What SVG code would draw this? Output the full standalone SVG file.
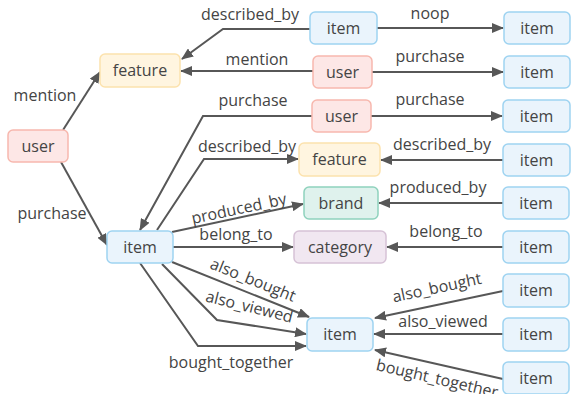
<svg xmlns="http://www.w3.org/2000/svg" width="571" height="394" viewBox="0 0 571 394">
<style>
text{font-family:"Open Sans","DejaVu Sans",sans-serif;font-size:16px;fill:#444}
.n text{text-anchor:middle}
.lbl{text-anchor:middle}
.e{fill:none;stroke:#575757;stroke-width:2;marker-end:url(#ah)}
.user rect{fill:#fde7e6;stroke:#f7b8ae;stroke-width:1.5}
.feat rect{fill:#fff5e0;stroke:#fce2ad;stroke-width:1.5}
.item rect{fill:#eaf4fc;stroke:#9ed3f1;stroke-width:1.5}
.brand rect{fill:#dff2ed;stroke:#8fd2bd;stroke-width:1.5}
.cat rect{fill:#f1e7f1;stroke:#d6c2d6;stroke-width:1.5}
</style>
<defs>
<marker id="ah" markerUnits="userSpaceOnUse" viewBox="0 0 12 10" markerWidth="12" markerHeight="10" refX="11" refY="5" orient="auto">
<path d="M0,0 L12,5 L0,10 z" fill="#575757"/>
</marker>
</defs>
<g id="connectors">
<path class="e" d="M63,130 L100,72"/>
<path class="e" d="M61,162 L107,245"/>
<path class="e" d="M310,29 L223,29 L182,59"/>
<path class="e" d="M377,28 L503,28"/>
<path class="e" d="M313,71 L181,71"/>
<path class="e" d="M372,72 L503,72"/>
<path class="e" d="M312,116 L203,116 L140,230"/>
<path class="e" d="M371,116 L502,116"/>
<path class="e" d="M157,230 L204,159 L298,159"/>
<path class="e" d="M503,160 L381,160"/>
<path class="e" d="M172,232 L303,204"/>
<path class="e" d="M503,203 L379,203"/>
<path class="e" d="M173,247 L293,247"/>
<path class="e" d="M503,247 L387,247"/>
<path class="e" d="M172,262 L309,317"/>
<path class="e" d="M162,264 L217,320 L306,334"/>
<path class="e" d="M140,263 L198,346 L306,346"/>
<path class="e" d="M503,291 L375,318"/>
<path class="e" d="M503,334 L374,334"/>
<path class="e" d="M503,379 L375,350"/>
</g>
<g id="edge-labels">
<text class="lbl" x="45" y="101">mention</text>
<text class="lbl" x="52" y="219">purchase</text>
<text class="lbl" x="250" y="20">described_by</text>
<text class="lbl" x="430" y="19">noop</text>
<text class="lbl" x="257" y="65">mention</text>
<text class="lbl" x="430" y="62">purchase</text>
<text class="lbl" x="253" y="106">purchase</text>
<text class="lbl" x="430" y="105">purchase</text>
<text class="lbl" x="247" y="152">described_by</text>
<text class="lbl" x="442" y="150">described_by</text>
<text class="lbl" transform="translate(240,214) rotate(-12)">produced_by</text>
<text class="lbl" x="438" y="193">produced_by</text>
<text class="lbl" x="236" y="240">belong_to</text>
<text class="lbl" x="446" y="237">belong_to</text>
<text class="lbl" transform="translate(251,285) rotate(22)">also_bought</text>
<text class="lbl" transform="translate(248,312) rotate(14)">also_viewed</text>
<text class="lbl" x="231" y="368">bought_together</text>
<text class="lbl" transform="translate(438,293) rotate(-12)">also_bought</text>
<text class="lbl" x="443" y="327">also_viewed</text>
<text class="lbl" transform="translate(436,384) rotate(13)">bought_together</text>
</g>
<g id="n-user1" class="n user"><rect x="8" y="130" width="60" height="32" rx="5"/><text x="38" y="151.5">user</text></g>
<g id="n-feature1" class="n feat"><rect x="100" y="54" width="80" height="33" rx="5"/><text x="140" y="76">feature</text></g>
<g id="n-item-a" class="n item"><rect x="310" y="12" width="67" height="32" rx="5"/><text x="343.5" y="33.5">item</text></g>
<g id="n-item-b" class="n item"><rect x="504" y="12" width="66" height="32" rx="5"/><text x="537" y="33.5">item</text></g>
<g id="n-user2" class="n user"><rect x="313" y="56" width="59" height="32" rx="5"/><text x="342.5" y="77.5">user</text></g>
<g id="n-item-c" class="n item"><rect x="504" y="56" width="66" height="32" rx="5"/><text x="537" y="77.5">item</text></g>
<g id="n-user3" class="n user"><rect x="312" y="100" width="59" height="32" rx="5"/><text x="341.5" y="121.5">user</text></g>
<g id="n-item-d" class="n item"><rect x="503" y="100" width="67" height="32" rx="5"/><text x="536.5" y="121.5">item</text></g>
<g id="n-feature2" class="n feat"><rect x="299" y="143" width="81" height="33" rx="5"/><text x="339.5" y="165">feature</text></g>
<g id="n-item-e" class="n item"><rect x="503" y="144" width="67" height="32" rx="5"/><text x="536.5" y="165.5">item</text></g>
<g id="n-brand" class="n brand"><rect x="304" y="187" width="74" height="32" rx="5"/><text x="341" y="208.5">brand</text></g>
<g id="n-item-f" class="n item"><rect x="503" y="187" width="66" height="32" rx="5"/><text x="536" y="208.5">item</text></g>
<g id="n-category" class="n cat"><rect x="294" y="231" width="92" height="32" rx="5"/><text x="340" y="252.5">category</text></g>
<g id="n-item-g" class="n item"><rect x="503" y="231" width="66" height="32" rx="5"/><text x="536" y="252.5">item</text></g>
<g id="n-item-main" class="n item"><rect x="107" y="231" width="66" height="32" rx="5"/><text x="140" y="252.5">item</text></g>
<g id="n-item-h" class="n item"><rect x="503" y="274" width="66" height="33" rx="5"/><text x="536" y="296">item</text></g>
<g id="n-item-center" class="n item"><rect x="307" y="318" width="66" height="33" rx="5"/><text x="340" y="340">item</text></g>
<g id="n-item-i" class="n item"><rect x="503" y="318" width="66" height="33" rx="5"/><text x="536" y="340">item</text></g>
<g id="n-item-j" class="n item"><rect x="503" y="362" width="66" height="32" rx="5"/><text x="536" y="383.5">item</text></g>
</svg>
